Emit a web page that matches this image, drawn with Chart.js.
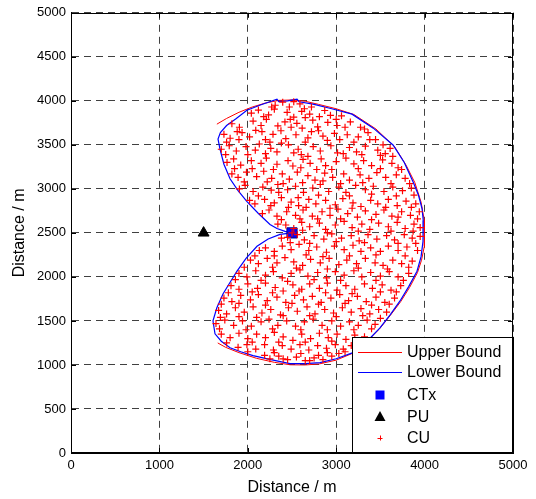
<!DOCTYPE html>
<html>
<head>
<meta charset="utf-8">
<script src="https://cdn.jsdelivr.net/npm/chart.js@4.4.1/dist/chart.umd.min.js"></script>
<style>
  html, body { margin: 0; padding: 0; background: #fff; }
  #wrap { width: 536px; height: 499px; position: relative; }
</style>
</head>
<body>
<div id="wrap"><canvas id="c" width="536" height="499"></canvas></div>
<script>
// ---------------- DATA ----------------
const legendLabels = ['Upper Bound', 'Lower Bound', 'CTx', 'PU', 'CU'];

const upperBound = [
  [1650,3735],[1760,3800],[1900,3870],[2050,3930],[2200,3975],[2350,4005],[2500,4010],[2650,3995],
  [2800,3960],[3000,3910],[3200,3845],[3450,3680],[3660,3480],[3790,3270],[3890,3070],[3960,2850],
  [3995,2650],[4000,2500],[3995,2350],[3965,2190],[3920,2050],[3830,1880],[3730,1720],[3610,1560],
  [3490,1410],[3340,1260],[3180,1130],[3000,1055],[2810,1012],[2650,1000],[2480,1002],[2300,1030],
  [2100,1075],[1900,1140],[1750,1200],[1660,1250]
];

const lowerBound = [
  [2500,2500],[2421,2517],[2330,2550],[2251,2596],[2120,2720],[1991,2855],[1890,2980],[1799,3115],
  [1730,3280],[1686,3450],[1663,3567],[1690,3640],[1760,3720],[1870,3800],[1990,3894],[2150,3955],
  [2330,4018],[2350,3990],[2450,4000],[2557,4018],[2580,3990],[2738,3962],[2950,3910],[3179,3849],
  [3420,3690],[3643,3499],[3770,3300],[3869,3081],[3930,2930],[3971,2777],[3985,2640],[3982,2494],
  [3982,2404],[3960,2230],[3914,2065],[3820,1890],[3722,1727],[3610,1570],[3495,1422],[3350,1270],
  [3190,1140],[3000,1070],[2817,1027],[2650,1015],[2477,1016],[2260,1060],[2059,1106],[1920,1150],
  [1799,1196],[1700,1270],[1629,1354],[1606,1501],[1650,1650],[1719,1806],[1800,1940],[1878,2065],
  [1980,2210],[2104,2348],[2230,2430],[2364,2483],[2500,2500]
];

const ctxPoints = [[2500,2500]];
const puPoints = [[1500,2500]];

const cuPoints = [
  [2310,3950],[2395,3985],[2470,3930],[2590,3965],[2640,3910],[2720,3930],
  [2040,3860],[2120,3895],[2235,3840],[2300,3905],[2445,3870],[2520,3815],[2610,3880],[2700,3850],[2870,3890],[2935,3835],[3060,3830],
  [1820,3740],[1905,3700],[2060,3770],[2150,3720],[2210,3790],[2340,3715],[2420,3760],[2555,3745],[2615,3690],[2735,3780],[2790,3705],[2905,3755],[3010,3720],[3160,3760],[3275,3700],
  [1730,3620],[1800,3575],[1935,3640],[2020,3590],[2090,3665],[2200,3560],[2285,3620],[2375,3660],[2430,3570],[2545,3615],[2680,3580],[2720,3650],[2850,3600],[2980,3630],[3040,3560],[3125,3615],[3250,3590],[3360,3640],[3445,3560],
  [1700,3450],[1790,3490],[1870,3430],[1980,3480],[2085,3440],[2130,3510],[2260,3460],[2330,3420],[2460,3500],[2570,3450],[2605,3390],[2740,3480],[2820,3430],[2940,3490],[3015,3410],[3150,3470],[3230,3420],[3330,3485],[3470,3440],[3555,3400],[3610,3460],
  [1765,3300],[1840,3340],[1920,3270],[2040,3320],[2150,3290],[2210,3350],[2330,3280],[2455,3320],[2510,3260],[2625,3335],[2705,3290],[2830,3340],[2880,3265],[3000,3310],[3110,3350],[3200,3285],[3310,3320],[3400,3265],[3525,3330],[3630,3290],[3700,3240],
  [1820,3170],[1890,3130],[1985,3190],[2100,3140],[2180,3200],[2270,3120],[2390,3170],[2470,3110],[2560,3190],[2680,3150],[2760,3100],[2870,3180],[2960,3130],[3085,3170],[3150,3100],[3270,3160],[3370,3120],[3460,3185],[3560,3130],[3680,3160],[3780,3120],
  [1905,3000],[1970,3040],[2060,2970],[2170,3020],[2265,2985],[2340,3050],[2450,2990],[2540,3030],[2630,2960],[2735,3010],[2820,3050],[2915,2970],[3030,3020],[3110,2960],[3220,3040],[3330,2990],[3420,3030],[3540,2970],[3640,3020],[3750,2980],[3850,3010],
  [2020,2870],[2080,2830],[2190,2880],[2300,2840],[2380,2900],[2490,2850],[2575,2810],[2690,2880],[2770,2830],[2880,2870],[2990,2820],[3075,2890],[3190,2840],[3280,2800],[3390,2870],[3470,2830],[3590,2880],[3690,2810],[3790,2860],[3900,2830],
  [2165,2720],[2240,2760],[2330,2690],[2440,2740],[2540,2700],[2625,2760],[2730,2690],[2840,2740],[2930,2700],[3020,2770],[3130,2720],[3240,2680],[3330,2750],[3450,2710],[3540,2760],[3630,2690],[3740,2740],[3840,2700],[3940,2740],
  [2340,2600],[2430,2590],[2520,2550],[2610,2620],[2700,2570],[2810,2610],[2880,2540],[2990,2590],[3090,2630],[3180,2560],[3290,2600],[3380,2540],[3480,2610],[3590,2570],[3690,2620],[3780,2550],[3880,2600],[3950,2560],
  [2500,2500],
  [2380,2440],[2450,2450],[2560,2480],[2640,2420],[2750,2470],[2860,2430],[2950,2490],[3060,2440],[3170,2470],[3260,2410],[3360,2480],[3460,2430],[3570,2470],[3660,2420],[3770,2480],[3860,2440],[3950,2460],
  [2130,2300],[2200,2330],[2300,2290],[2390,2350],[2490,2310],[2580,2370],[2690,2300],[2780,2340],[2890,2280],[2980,2350],[3090,2310],[3190,2360],[3280,2290],[3390,2330],[3500,2290],[3590,2350],[3700,2300],[3800,2340],[3920,2300],
  [2030,2190],[2120,2150],[2220,2210],[2330,2160],[2420,2220],[2520,2170],[2620,2130],[2710,2200],[2820,2160],[2920,2210],[3030,2140],[3120,2190],[3230,2150],[3330,2210],[3440,2160],[3530,2130],[3640,2190],[3740,2150],[3860,2180],
  [1900,2040],[1990,2000],[2090,2070],[2200,2020],[2290,2060],[2390,1990],[2490,2040],[2590,2080],[2680,2010],[2790,2050],[2890,1990],[2990,2060],[3090,2020],[3200,2070],[3290,2000],[3390,2050],[3500,2010],[3600,2060],[3700,2000],[3820,2040],
  [1810,1900],[1900,1860],[2000,1920],[2110,1870],[2200,1930],[2310,1880],[2400,1840],[2510,1910],[2610,1860],[2700,1920],[2810,1870],[2900,1930],[3010,1850],[3110,1900],[3210,1860],[3320,1920],[3410,1870],[3520,1910],[3620,1850],[3730,1900],
  [1730,1760],[1820,1720],[1920,1790],[2030,1740],[2120,1800],[2220,1730],[2330,1770],[2430,1710],[2530,1790],[2630,1740],[2730,1780],[2830,1710],[2940,1760],[3040,1800],[3140,1730],[3240,1780],[3340,1720],[3450,1770],[3550,1710],[3660,1760],
  [1670,1620],[1760,1580],[1860,1650],[1960,1600],[2060,1660],[2160,1590],[2260,1630],[2370,1570],[2460,1650],[2560,1610],[2670,1660],[2760,1580],[2870,1630],[2970,1590],[3070,1650],[3170,1600],[3280,1640],[3380,1580],[3480,1630],[3570,1600],
  [1640,1470],[1740,1510],[1840,1450],[1940,1500],[2040,1440],[2150,1490],[2240,1520],[2340,1450],[2440,1500],[2540,1440],[2640,1490],[2740,1520],[2840,1450],[2950,1500],[3050,1440],[3150,1490],[3250,1450],[3350,1510],[3440,1460],
  [1700,1350],[1800,1310],[1900,1360],[2000,1300],[2100,1350],[2200,1310],[2300,1370],[2400,1320],[2510,1280],[2610,1350],[2710,1300],[2810,1360],[2910,1310],[3010,1350],[3110,1290],[3210,1340],[3320,1320],
  [1890,1200],[1990,1230],[2090,1180],[2190,1230],[2290,1170],[2390,1220],[2490,1180],[2590,1230],[2690,1170],[2790,1220],[2890,1190],[2990,1230],[3080,1180],[3170,1220],
  [2190,1110],[2250,1070],[2350,1100],[2450,1060],[2550,1090],[2650,1050],[2750,1080],[2850,1060],[2950,1100],[3030,1130],
  // second scattered layer
  [2270,3930],[2520,3990],[2180,3820],[2480,3790],[2650,3810],[2810,3820],[3000,3790],[1880,3650],[2160,3650],[2490,3700],
  [2800,3660],[3100,3700],[3320,3680],[1760,3530],[1900,3560],[2250,3530],[2380,3520],[2650,3530],[2900,3550],[3200,3530],
  [3380,3560],[3530,3500],[1750,3390],[2000,3390],[2200,3400],[2520,3410],[2680,3370],[3080,3400],[3290,3390],[3500,3380],
  [3640,3370],[1850,3230],[2050,3230],[2290,3220],[2600,3240],[2780,3220],[2950,3220],[3250,3230],[3500,3230],[3740,3220],
  [1960,3080],[2220,3080],[2400,3060],[2620,3070],[2850,3090],[3050,3060],[3300,3070],[3620,3060],[3830,3060],[2120,2920],
  [2350,2960],[2570,2900],[2800,2930],[3150,2920],[3400,2940],[3680,2920],[3880,2930],[2260,2810],[2460,2790],[2660,2790],
  [2930,2780],[3180,2780],[3560,2790],[3850,2790],[2380,2650],[2590,2660],[2790,2660],[3050,2660],[3400,2650],[3700,2680],
  [3920,2660],[2620,2530],[2900,2500],[3250,2520],[3620,2520],[3870,2520],[2480,2390],[2700,2380],[3000,2400],[3320,2390],
  [3700,2380],[3900,2380],[2080,2240],[2300,2240],[2660,2250],[2850,2230],[3150,2240],[3450,2250],[3780,2240],[1960,2110],
  [2280,2110],[2550,2100],[2900,2090],[3250,2100],[3580,2090],[3820,2110],[1860,1970],[2150,1960],[2450,1950],[2750,1970],
  [3050,1960],[3450,1960],[3760,1960],[1780,1820],[2050,1830],[2280,1820],[2580,1840],[2880,1820],[3180,1810],[3500,1830],
  [3680,1830],[1700,1690],[1900,1700],[2200,1680],[2500,1700],[2800,1690],[3100,1700],[3400,1680],[3600,1690],[1690,1540],
  [1900,1550],[2100,1540],[2400,1560],[2700,1560],[3000,1550],[3300,1560],[3500,1530],[1680,1410],[1980,1400],[2280,1410],
  [2600,1400],[2900,1400],[3200,1400],[3400,1410],[1760,1250],[2050,1260],[2350,1260],[2650,1260],[2950,1270],[3250,1260],
  [2000,1150],[2300,1140],[2600,1130],[2900,1140],[3100,1150],[2400,1070],[2700,1050],[2800,1110]
];

const toXY = arr => arr.map(([x, y]) => ({x, y}));

// ---------------- STYLE ----------------
const RED = '#ff0000', BLUE = '#0000ff', BLACK = '#000000';
const FONT = '"Liberation Sans", Arial, Helvetica, sans-serif';
Chart.defaults.color = '#000';
Chart.defaults.font.family = FONT;

const framePlugin = {
  id: 'frameLegend',
  afterDatasetsDraw(chart) {
    const {ctx, chartArea: a, scales} = chart;
    ctx.save();
    ctx.strokeStyle = BLACK;
    ctx.lineWidth = 1;
    const tl = 5;
    ctx.beginPath();
    scales.x.ticks.forEach(t => {
      const px = Math.round(scales.x.getPixelForValue(t.value)) + 0.5;
      ctx.moveTo(px, a.bottom); ctx.lineTo(px, a.bottom - tl);
      ctx.moveTo(px, a.top); ctx.lineTo(px, a.top + tl);
    });
    scales.y.ticks.forEach(t => {
      const py = Math.round(scales.y.getPixelForValue(t.value)) + 0.5;
      ctx.moveTo(a.left, py); ctx.lineTo(a.left + tl, py);
      ctx.moveTo(a.right, py); ctx.lineTo(a.right - tl, py);
    });
    ctx.stroke();

    // legend box
    const bw = 161, bh = 116;
    const x0 = Math.round(a.right - bw), y0 = Math.round(a.bottom - bh);
    ctx.fillStyle = '#fff';
    ctx.fillRect(x0, y0, bw, bh);
    ctx.strokeStyle = BLACK;
    ctx.strokeRect(x0 + 0.5, y0 + 0.5, bw, bh);

    const rows = [15, 35, 58, 80, 101];
    const mx = x0 + 28;
    ctx.font = '16px ' + FONT;
    ctx.textBaseline = 'middle';
    ctx.textAlign = 'left';
    ctx.strokeStyle = RED; ctx.lineWidth = 1;
    ctx.beginPath(); ctx.moveTo(x0 + 6, y0 + rows[0] + 0.5); ctx.lineTo(x0 + 50, y0 + rows[0] + 0.5); ctx.stroke();
    ctx.strokeStyle = BLUE;
    ctx.beginPath(); ctx.moveTo(x0 + 6, y0 + rows[1] + 0.5); ctx.lineTo(x0 + 50, y0 + rows[1] + 0.5); ctx.stroke();
    ctx.fillStyle = BLUE;
    ctx.fillRect(mx - 4.5, y0 + rows[2] - 4.5, 9, 9);
    ctx.fillStyle = BLACK;
    ctx.beginPath();
    ctx.moveTo(mx, y0 + rows[3] - 6);
    ctx.lineTo(mx + 5.5, y0 + rows[3] + 4);
    ctx.lineTo(mx - 5.5, y0 + rows[3] + 4);
    ctx.closePath(); ctx.fill();
    ctx.strokeStyle = RED;
    ctx.beginPath();
    ctx.moveTo(mx - 2.5, y0 + rows[4] + 0.5); ctx.lineTo(mx + 2.5, y0 + rows[4] + 0.5);
    ctx.moveTo(mx + 0.5, y0 + rows[4] - 2.5); ctx.lineTo(mx + 0.5, y0 + rows[4] + 2.5);
    ctx.stroke();
    ctx.fillStyle = BLACK;
    legendLabels.forEach((lab, i) => ctx.fillText(lab, x0 + 55, y0 + rows[i] + 1));

    ctx.strokeStyle = BLACK; ctx.lineWidth = 1;
    ctx.strokeRect(Math.round(a.left) + 0.5, Math.round(a.top) + 0.5,
                   Math.round(a.right - a.left) - 1, Math.round(a.bottom - a.top) - 1);
    ctx.restore();
  }
};

const gridOpts = { color: '#404040', lineWidth: 1, drawTicks: false };
const borderOpts = { display: true, color: BLACK, width: 1, dash: [7, 5] };
const plainNum = v => String(v);

new Chart(document.getElementById('c'), {
  type: 'scatter',
  data: {
    datasets: [
      { label: legendLabels[0], data: toXY(upperBound), showLine: true, borderColor: RED, borderWidth: 1,
        pointRadius: 0, fill: false, tension: 0, order: 5 },
      { label: legendLabels[1], data: toXY(lowerBound), showLine: true, borderColor: BLUE, borderWidth: 1.2,
        pointRadius: 0, fill: false, tension: 0, order: 4 },
      { label: legendLabels[2], data: toXY(ctxPoints), pointStyle: 'rect', pointRadius: 7.2,
        backgroundColor: BLUE, borderColor: '#00008b', borderWidth: 1, order: 2 },
      { label: legendLabels[3], data: toXY(puPoints), pointStyle: 'triangle', pointRadius: 6.3,
        backgroundColor: BLACK, borderColor: BLACK, borderWidth: 1, order: 3 },
      { label: legendLabels[4], data: toXY(cuPoints), pointStyle: 'cross', pointRadius: 3.5,
        borderColor: RED, backgroundColor: RED, borderWidth: 1.2, order: 1 }
    ]
  },
  options: {
    responsive: false,
    animation: false,
    events: [],
    layout: { padding: { left: 0, right: 23, top: 10, bottom: 0 } },
    plugins: { legend: { display: false }, tooltip: { enabled: false } },
    scales: {
      x: {
        type: 'linear', min: 0, max: 5000,
        ticks: { stepSize: 1000, padding: 5, font: { size: 13 }, maxRotation: 0, callback: plainNum },
        grid: gridOpts, border: borderOpts,
        title: { display: true, text: 'Distance / m', font: { size: 16 }, padding: { top: 4, bottom: 2 } },
        afterFit(s) { s.height = 46; }
      },
      y: {
        type: 'linear', min: 0, max: 5000,
        ticks: { stepSize: 500, padding: 5, font: { size: 13 }, callback: plainNum },
        grid: gridOpts, border: borderOpts,
        title: { display: true, text: 'Distance / m', font: { size: 16 }, padding: { top: 10, bottom: 0 } },
        afterFit(s) { s.width = 71; }
      }
    }
  },
  plugins: [framePlugin]
});
</script>
</body>
</html>
